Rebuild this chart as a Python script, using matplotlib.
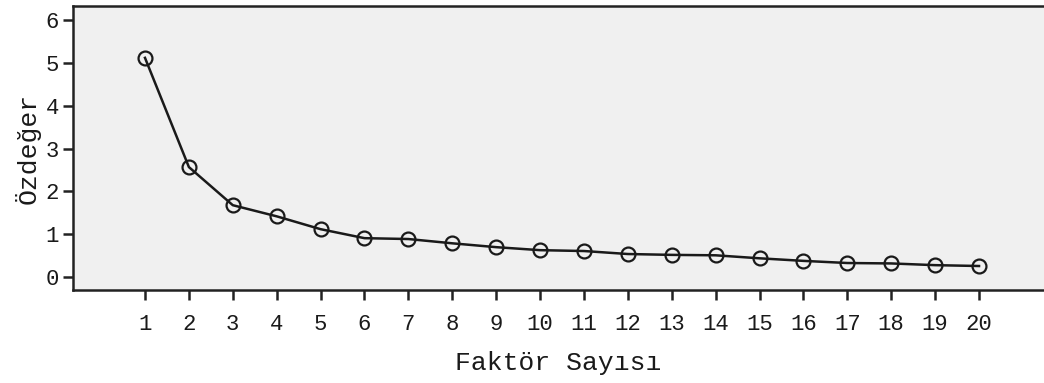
import matplotlib
matplotlib.use("Agg")
import matplotlib.pyplot as plt

factors = list(range(1, 21))
eigenvalues = [5.12, 2.57, 1.68, 1.42, 1.12, 0.91, 0.89, 0.79, 0.70, 0.63,
               0.61, 0.54, 0.52, 0.51, 0.44, 0.38, 0.33, 0.32, 0.28, 0.26]
x_label = "Faktör Sayısı"
y_label = "Özdeğer"
y_ticks = [0, 1, 2, 3, 4, 5, 6]

plt.rcParams['font.family'] = ['Liberation Mono', 'DejaVu Sans Mono']

fig = plt.figure(figsize=(10.44, 3.83), dpi=100)
ax = fig.add_axes([73/1044, 1-290/383, 1-73/1044, (290-6)/383])
ax.set_facecolor('#f0f0f0')

ax.plot(factors, eigenvalues, color='#1a1a1a', lw=1.8, marker='o', ms=10,
        mfc='none', mec='#1a1a1a', mew=1.6)

ax.set_xlim(-0.64, 21.48)
ax.set_ylim(-0.3, 6.33)
ax.set_xticks(factors)
ax.set_yticks(y_ticks)
ax.tick_params(axis='both', direction='out', length=7, width=1.8,
               color='#222222', labelsize=16, labelcolor='#1a1a1a')
ax.tick_params(axis='x', pad=10)
ax.tick_params(axis='y', pad=3)

for side in ['left', 'bottom', 'top']:
    ax.spines[side].set_linewidth(1.8)
    ax.spines[side].set_color('#222222')
ax.spines['right'].set_visible(False)

ax.set_xlabel(x_label, fontsize=19, color='#1a1a1a', labelpad=12)
ax.set_ylabel(y_label, fontsize=19, color='#1a1a1a', labelpad=4)

fig.savefig("out.png", dpi=100, facecolor='white')
